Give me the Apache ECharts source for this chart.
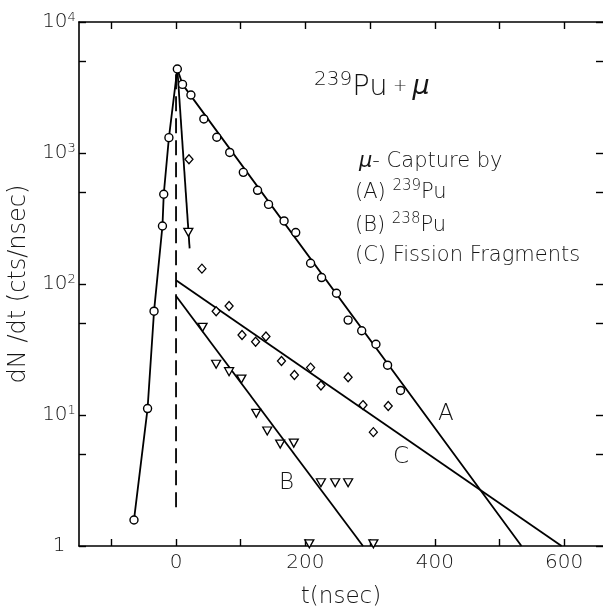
<!DOCTYPE html>
<html><head><meta charset="utf-8">
<script src="https://cdn.jsdelivr.net/npm/echarts@6/dist/echarts.min.js"></script>
<style>html,body{margin:0;padding:0;background:#fff}#c{width:603px;height:606px}</style>
</head><body><div id="c"></div>
<script>
// ---- data (t in nsec, dN/dt in cts/nsec) ----
const risePts = [[-65,1.58],[-44,11.2],[-34,62],[-21,277],[-19,484],[-11,1310],[2,4380]];
const circlesA = [[10,3340],[23,2770],[43,1820],[63,1320],[83,1010],[104,712],[126,519],[143,405],[167,303],[185,247],[208,144],[225,112],[248,85],[266,53],[287,44],[309,34.7],[327,24],[347,15.4]];
const diamondsC = [[20,895],[40,131],[62,62],[82,68],[102,40.8],[123,36.3],[139,39.7],[163,25.8],[183,20.2],[208,23],[224,16.8],[266,19.4],[289,11.9],[305,7.4],[328,11.7]];
const trianglesB = [[19,248],[41,46.7],[62,24.4],[82,21.4],[101,18.8],[124,10.3],[141,7.55],[161,6.0],[182,6.1],[206,1.04],[224,3.04],[246,3.04],[266,3.04],[305,1.04]];
const fitA = [[2,4380],[10,3340],[534,1]];
const fitB = [[0,81],[289,1]];
const fitC = [[0,107],[596,1]];
const fastLine = [[2,4380],[21,187]];
const dashedLine = [[0,4000],[0,1.95]];
const xTicks = [-100,0,100,200,300,400,500,600];
const xLabels = [0,200,400,600];
const yTicks = [1,5,10,50,100,500,1000,5000,10000];

const FONT = 'DejaVu Sans';
const FW = 200;
const TXT = '#151515';
const chart = echarts.init(document.getElementById('c'));
const lineStyle = {color:'#000', width:1.8};
const tickCfg = (pos) => ({
  type:'value', min:0, max:4, position:pos,
  axisLine:{show:false, onZero:false}, splitLine:{show:false}, axisLabel:{show:false},
  axisTick:{show:true, inside:true, length:7, lineStyle:{color:'#000', width:1.4},
    customValues: yTicks.map(v => Math.log10(v))}
});
const f = (size, extra) => Object.assign({fontSize:size, fontFamily:FONT, fontWeight:FW, color:TXT}, extra || {});
chart.setOption({
  animation:false,
  backgroundColor:'#fff',
  textStyle:{fontFamily:FONT},
  grid:{left:79, top:22, width:524, bottom:60, containLabel:false, outerBoundsMode:'none'},
  xAxis:[{
    type:'value', min:-150, max:660, position:'bottom',
    name:'t(nsec)', nameLocation:'middle', nameGap:40,
    nameTextStyle:f(23),
    axisLine:{show:true, onZero:false, lineStyle:{color:'#000', width:1.6}},
    axisTick:{show:true, inside:true, length:7, lineStyle:{color:'#000', width:1.4}, customValues:xTicks},
    axisLabel:Object.assign({show:true, customValues:xLabels, margin:7}, f(20)),
    splitLine:{show:false}
  },{
    type:'value', min:-150, max:660, position:'top',
    axisLine:{show:true, onZero:false, lineStyle:{color:'#000', width:1.6}},
    axisTick:{show:true, inside:true, length:7, lineStyle:{color:'#000', width:1.4}, customValues:xTicks},
    axisLabel:{show:false}, splitLine:{show:false}
  }],
  yAxis:[{
    type:'log', logBase:10, min:1, max:10000, position:'left',
    name:'dN /dt (cts/nsec)', nameLocation:'middle', nameGap:44, nameRotate:90,
    nameTextStyle:f(24),
    axisLine:{show:true, onZero:false, lineStyle:{color:'#000', width:1.6}},
    axisTick:{show:false},
    axisLabel:{show:true, margin:20, align:'center', color:TXT, fontFamily:FONT, fontWeight:FW,
      formatter: v => {
        const e = Math.round(Math.log10(v));
        return e === 0 ? '{n|1}' : '{n|10}{s|' + e + '}';
      },
      rich:{n:f(20, {lineHeight:22}), s:f(13, {lineHeight:13, verticalAlign:'top'})}},
    splitLine:{show:false}
  }, tickCfg('left'), tickCfg('right')],
  graphic:[
    {type:'text', left:314, top:70, style:{text:'{s|239}{n|Pu}{p| + }{m|μ}', fill:TXT,
      rich:{s:f(20, {verticalAlign:'top', lineHeight:20}),
            n:f(29, {lineHeight:34}),
            p:f(17, {lineHeight:34}),
            m:f(27, {lineHeight:34, fontStyle:'italic', fontWeight:'normal', color:'#333'})}}},
    {type:'text', left:359, top:151, style:{text:'{m|μ}{n|- Capture by}', fill:TXT,
      rich:{m:f(21, {fontStyle:'italic', lineHeight:26, fontWeight:'normal', color:'#333'}), n:f(21, {lineHeight:26})}}},
    {type:'text', left:355, top:179, style:{text:'{n|(A) }{s|239}{n|Pu}', fill:TXT,
      rich:{n:f(21, {lineHeight:28}), s:f(15, {verticalAlign:'top', lineHeight:15})}}},
    {type:'text', left:355, top:212, style:{text:'{n|(B) }{s|238}{n|Pu}', fill:TXT,
      rich:{n:f(21, {lineHeight:28}), s:f(15, {verticalAlign:'top', lineHeight:15})}}},
    {type:'text', left:355, top:245, style:{text:'{n|(C) Fission Fragments}', fill:TXT,
      rich:{n:f(21, {lineHeight:28})}}},
    {type:'text', left:438, top:403, style:{text:'{n|A}', fill:TXT, rich:{n:f(23, {lineHeight:28})}}},
    {type:'text', left:393, top:446, style:{text:'{n|C}', fill:TXT, rich:{n:f(23, {lineHeight:28})}}},
    {type:'text', left:279, top:472, style:{text:'{n|B}', fill:TXT, rich:{n:f(23, {lineHeight:28})}}}
  ],
  series:[
    {type:'line', data:fitA, symbol:'none', lineStyle:lineStyle, z:2},
    {type:'line', data:fitB, symbol:'none', lineStyle:lineStyle, z:2},
    {type:'line', data:fitC, symbol:'none', lineStyle:lineStyle, z:2},
    {type:'line', data:fastLine, symbol:'none', lineStyle:lineStyle, z:2},
    {type:'line', data:dashedLine, symbol:'none', lineStyle:{color:'#000', width:1.8, type:[15,7]}, z:2},
    {type:'line', data:risePts, symbol:'circle', symbolSize:8, showAllSymbol:true,
      lineStyle:lineStyle, itemStyle:{color:'#fff', borderColor:'#000', borderWidth:1.4}, z:3},
    {type:'scatter', data:circlesA, symbol:'circle', symbolSize:8,
      itemStyle:{color:'#fff', borderColor:'#000', borderWidth:1.4, opacity:1}, z:4},
    {type:'scatter', data:diamondsC, symbol:'diamond', symbolSize:[8,9],
      itemStyle:{color:'#fff', borderColor:'#000', borderWidth:1.3, opacity:1}, z:4},
    {type:'scatter', data:trianglesB, symbol:'triangle', symbolSize:[9,8], symbolRotate:180,
      itemStyle:{color:'#fff', borderColor:'#000', borderWidth:1.3, opacity:1}, z:4}
  ]
});
</script></body></html>
